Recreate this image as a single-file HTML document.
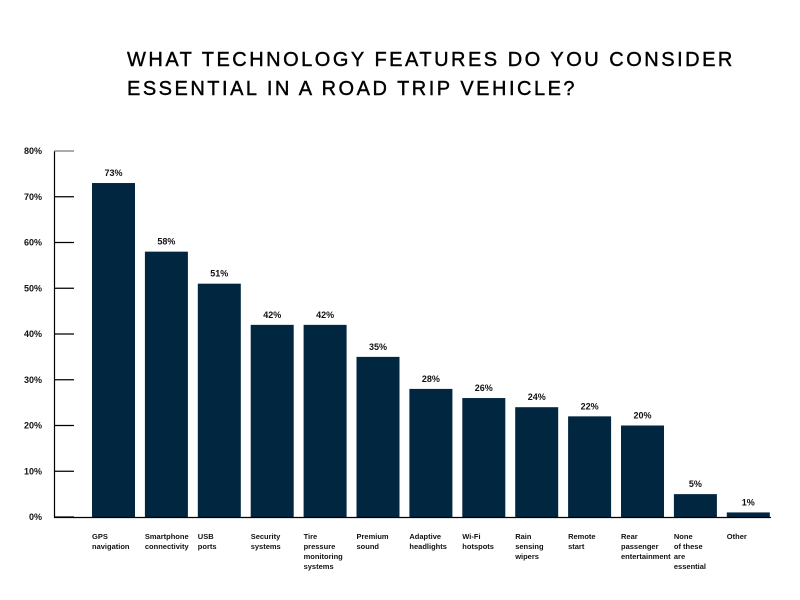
<!DOCTYPE html>
<html><head><meta charset="utf-8"><style>
body{margin:0;background:#fff;width:800px;height:600px;overflow:hidden;font-family:"Liberation Sans",sans-serif}
h1{position:absolute;left:127px;top:46px;margin:0;font-size:20px;letter-spacing:2.5px;font-weight:normal;line-height:29px;color:#000;-webkit-text-stroke:0.4px #000}
</style></head><body>
<h1>WHAT TECHNOLOGY FEATURES DO YOU CONSIDER<br>ESSENTIAL IN A ROAD TRIP VEHICLE?</h1>
<svg id="c" width="800" height="600" style="position:absolute;left:0;top:0"></svg>
<script>
const categories=[["GPS","navigation"],["Smartphone","connectivity"],["USB","ports"],["Security","systems"],["Tire","pressure","monitoring","systems"],["Premium","sound"],["Adaptive","headlights"],["Wi-Fi","hotspots"],["Rain","sensing","wipers"],["Remote","start"],["Rear","passenger","entertainment"],["None","of these","are","essential"],["Other"]];
const values=[73,58,51,42,42,35,28,26,24,22,20,5,1];
const ticks=[0,10,20,30,40,50,60,70,80];
const NS="http://www.w3.org/2000/svg";
const svg=document.getElementById('c');
const y0=517,y1=151,vmax=80;
const y=v=>y0-(v/vmax)*(y0-y1);
const x=i=>92+i*52.9;
const bw=43;
function mk(t,a){const e=document.createElementNS(NS,t);for(const k in a)e.setAttribute(k,a[k]);svg.appendChild(e);return e;}
const ax=mk('line',{x1:54.5,x2:54.5,y1:y1,y2:y0,stroke:'#000','stroke-width':1.2});


ticks.forEach(t=>{
 const l=mk('line',{x1:54,x2:74,y1:y(t),y2:y(t),stroke:t==80?'#777':'#000','stroke-width':1.2});
 
 
 const tx=mk('text',{x:42,y:y(t)+3,'text-anchor':'end','font-size':9,'font-weight':'bold',fill:'#111'});
 tx.textContent=t+'%';
 
 
});
values.forEach((v,i)=>{
 const r=mk('rect',{x:x(i),y:y(v),width:bw,height:y0-y(v),fill:'#012640'});
 
 
 const t=mk('text',{x:x(i)+bw/2,y:y(v)-7,'text-anchor':'middle','font-size':9,'font-weight':'bold',fill:'#111'});
 t.textContent=v+'%';
 
 
 categories[i].forEach((s,j)=>{
  const c=mk('text',{x:x(i),y:539+j*10,'font-size':7.5,'font-weight':'bold',fill:'#111'});
  c.textContent=s;
  
  
 });
});
const bl=mk('line',{x1:54,x2:771,y1:y0+0.5,y2:y0+0.5,stroke:'#000','stroke-width':1.2});


</script>
</body></html>
